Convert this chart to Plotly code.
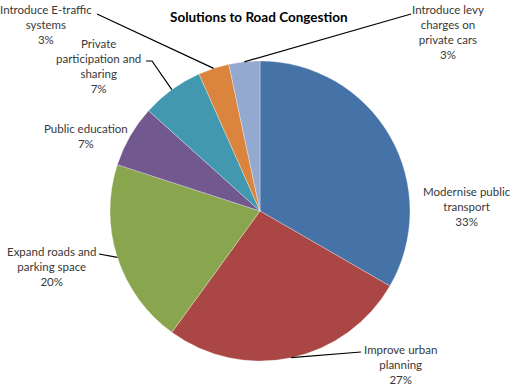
import math
import plotly.graph_objects as go

categories = [
    "Modernise public transport",
    "Improve urban planning",
    "Expand roads and parking space",
    "Public education",
    "Private participation and sharing",
    "Introduce E-traffic systems",
    "Introduce levy charges on private cars",
]
label_lines = [
    "Modernise public<br>transport",
    "Improve urban<br>planning",
    "Expand roads and<br>parking space",
    "Public education",
    "Private<br>participation and<br>sharing",
    "Introduce E-traffic<br>systems",
    "Introduce levy<br>charges on<br>private cars",
]
values = [10, 8, 6, 2, 2, 1, 1]
colors = ["#4572A7", "#AA4643", "#89A54E", "#71588F", "#4198AF", "#DB843D", "#93A9CF"]

W, H = 515, 390
CX, CY, R = 260, 211, 150

# label text centre positions (pixels) and leader anchor points (pixels; None = no leader)
label_pos = [(467, 206), (400, 364), (51, 266), (86, 136), (98, 66), (46, 24), (448, 32)]
leader_start = [None, [(361, 352)], [(99, 254)], None, [(146, 61), (152, 61)], [(97, 14)], [(411, 14)]]

fig = go.Figure(go.Pie(
    labels=categories,
    values=values,
    marker=dict(colors=colors, line=dict(color="rgba(255,255,255,0.6)", width=0.5)),
    sort=False,
    direction="clockwise",
    rotation=0,
    textinfo="none",
    domain=dict(x=[(CX - R) / W, (CX + R) / W], y=[1 - (CY + R) / H, 1 - (CY - R) / H]),
    showlegend=False,
))

def px(x, y):
    return x / W, 1 - y / H

total = sum(values)
cum = 0
shapes = []
annotations = []
for i, v in enumerate(values):
    mid = (cum + v / 2) / total * 2 * math.pi
    cum += v
    pct = round(v / total * 100)
    lx, ly = label_pos[i]
    ax_, ay_ = px(lx, ly)
    annotations.append(dict(
        x=ax_, y=ay_, xref="paper", yref="paper", showarrow=False,
        text=f"{label_lines[i]}<br>{pct}%", align="center",
        font=dict(family="Lato, Carlito, Calibri, sans-serif", size=11.5, color="#383838"),
        xanchor="center", yanchor="middle",
    ))
    if leader_start[i]:
        ex = CX + R * math.sin(mid)
        ey = CY - R * math.cos(mid)
        pts = leader_start[i] + [(ex, ey)]
        path = "M " + " L ".join(f"{px(x, y)[0]},{px(x, y)[1]}" for x, y in pts)
        shapes.append(dict(type="path", path=path, xref="paper", yref="paper",
                           line=dict(color="#000000", width=1.2)))

annotations.append(dict(
    x=259 / W, y=1 - 17 / H, xref="paper", yref="paper", showarrow=False,
    text="<b>Solutions to Road Congestion</b>",
    font=dict(family="Lato, Carlito, Calibri, sans-serif", size=13.5, color="#000000"),
    xanchor="center", yanchor="middle",
))

fig.update_layout(
    width=W, height=H,
    margin=dict(l=0, r=0, t=0, b=0),
    paper_bgcolor="white",
    plot_bgcolor="white",
    shapes=shapes,
    annotations=annotations,
)

fig.write_html("out.html", config={"displayModeBar": False})
